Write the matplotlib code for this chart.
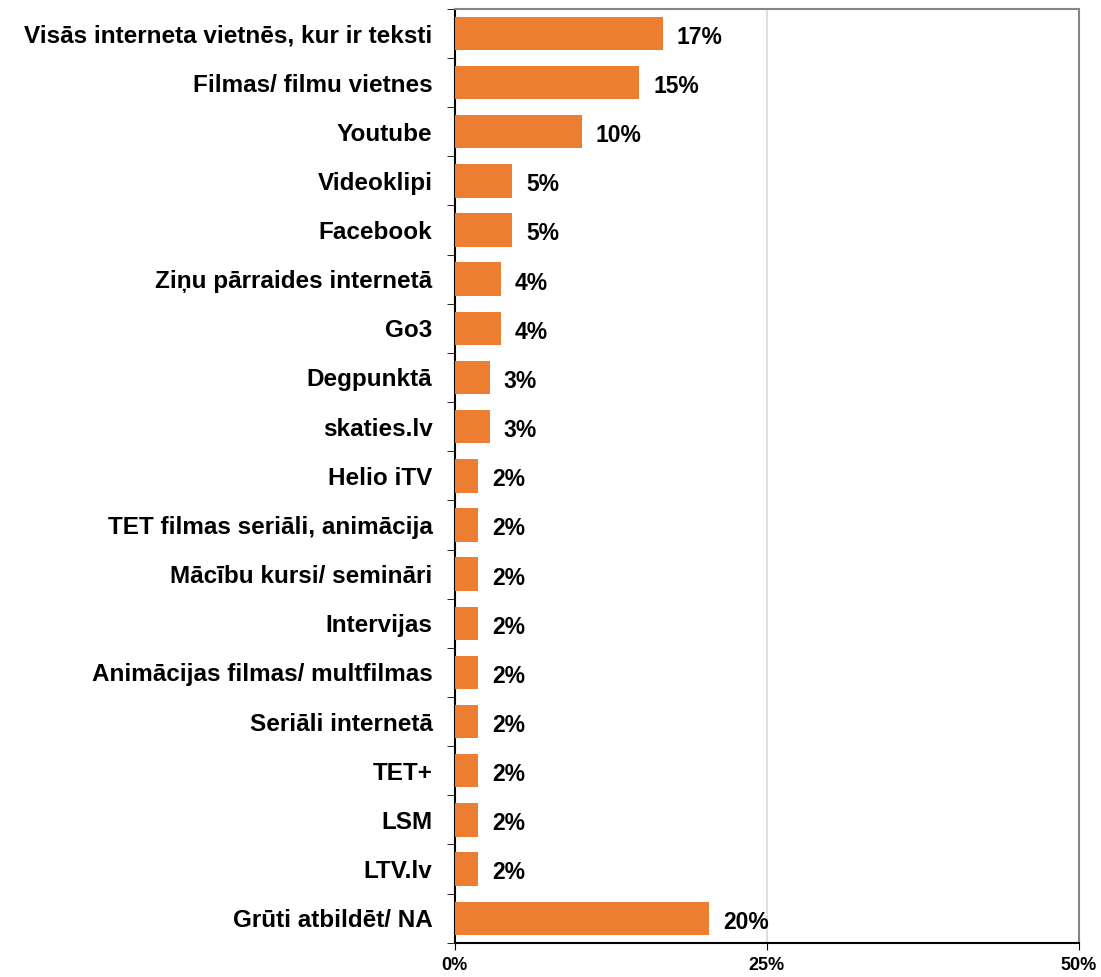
import matplotlib.pyplot as plt
from matplotlib.ticker import FuncFormatter

categories = [
    'Visās interneta vietnēs, kur ir teksti',
    'Filmas/ filmu vietnes',
    'Youtube',
    'Videoklipi',
    'Facebook',
    'Ziņu pārraides internetā',
    'Go3',
    'Degpunktā',
    'skaties.lv',
    'Helio iTV',
    'TET filmas seriāli, animācija',
    'Mācību kursi/ semināri',
    'Intervijas',
    'Animācijas filmas/ multfilmas',
    'Seriāli internetā',
    'TET+',
    'LSM',
    'LTV.lv',
    'Grūti atbildēt/ NA',
]
values = [16.7, 14.8, 10.2, 4.6, 4.6, 3.7, 3.7, 2.8, 2.8, 1.9, 1.9, 1.9, 1.9,
          1.9, 1.9, 1.9, 1.9, 1.9, 20.4]
ticks = [0, 25, 50]

plt.rcParams['font.family'] = ['Liberation Sans', 'DejaVu Sans']

fig = plt.figure(figsize=(11.01, 9.77), dpi=100)
ax = fig.add_axes([0.413, 0.035, 0.567, 0.956])

y = list(range(len(categories)))
ax.barh(y, values, height=0.68, color='#ED7D31', zorder=3)

# value labels right of the bars
for yi, v in zip(y, values):
    ax.text(v + 1.1, yi + 0.08, f'{round(v)}%', va='center', ha='left',
            fontsize=16.5, fontweight='bold')

ax.set_ylim(len(categories) - 0.5, -0.5)
ax.set_yticks(y)
ax.set_yticklabels(categories, fontsize=17.5, fontweight='bold')
ax.tick_params(axis='y', length=0, pad=16)
# small tick marks between the categories
ax.set_yticks([i + 0.5 for i in range(-1, len(categories))], minor=True)
ax.tick_params(axis='y', which='minor', length=6, direction='out')

ax.set_xlim(0, 50)
ax.set_xticks(ticks)
ax.xaxis.set_major_formatter(FuncFormatter(lambda x, p: f'{x:.0f}%'))
ax.tick_params(axis='x', length=5, direction='out', labelsize=13, pad=5)
for lbl in ax.get_xticklabels():
    lbl.set_fontweight('bold')

ax.grid(axis='x', color='#D9D9D9', linewidth=1.2, zorder=0)
ax.spines['left'].set_color('black')
ax.spines['bottom'].set_color('black')
ax.spines['top'].set_color('#868686')
ax.spines['right'].set_color('#868686')
for s in ax.spines.values():
    s.set_linewidth(1.5)

plt.savefig('out.png', dpi=100)
